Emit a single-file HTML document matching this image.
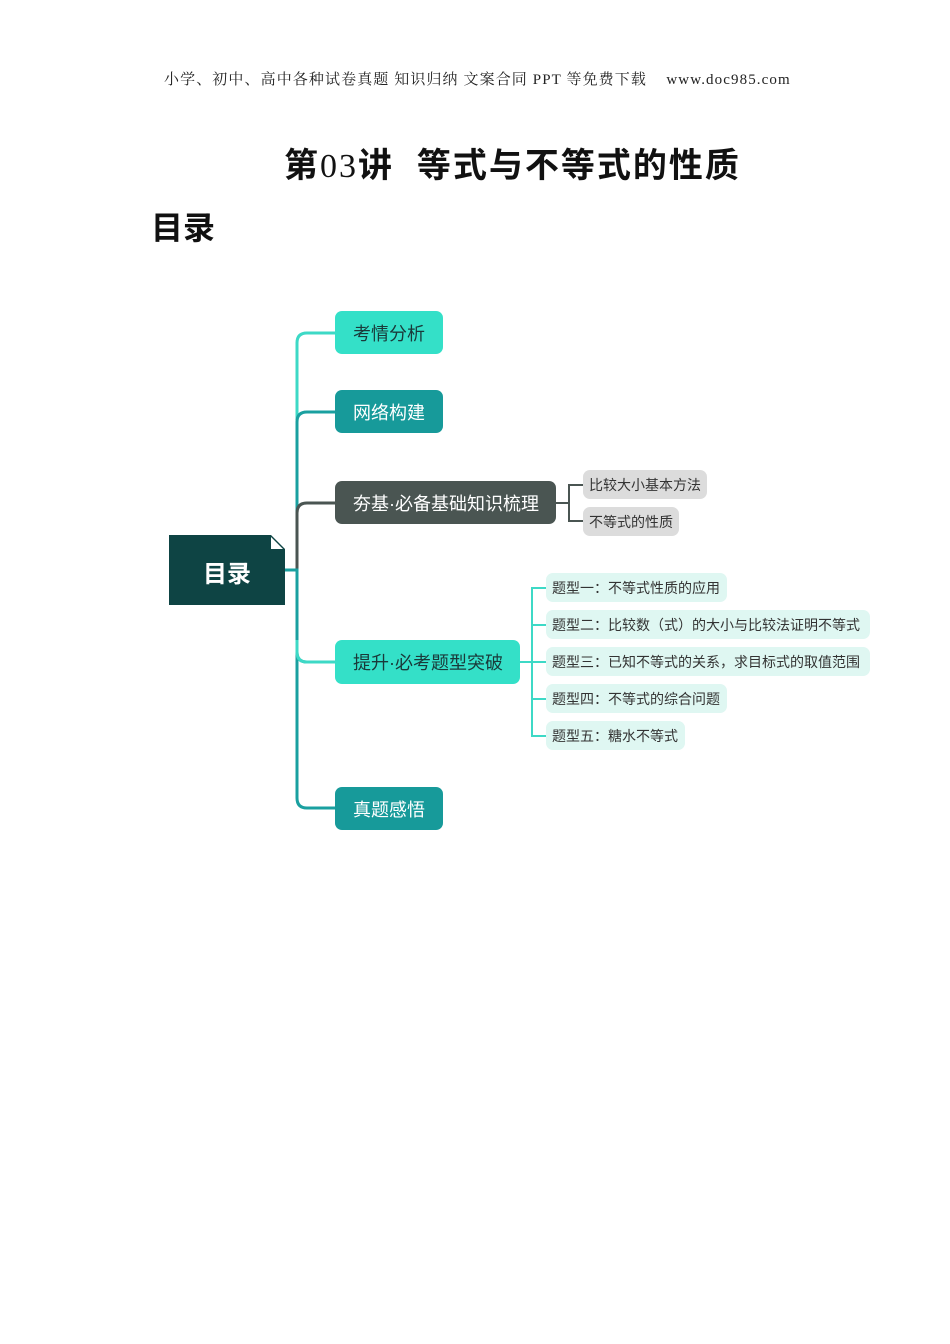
<!DOCTYPE html>
<html><head><meta charset="utf-8"><style>
body{margin:0;background:#fff;}
#p{position:relative;width:950px;height:1344px;overflow:hidden;font-family:"Liberation Sans","Noto Sans CJK SC",sans-serif;}
.a{position:absolute;white-space:nowrap;}
.n{position:absolute;border-radius:7px;display:flex;align-items:center;padding-left:18px;box-sizing:border-box;font-size:18px;}
.s{position:absolute;border-radius:7px;display:flex;align-items:center;padding-left:6px;box-sizing:border-box;font-size:14px;color:#333;}
</style></head><body><div id="p">
<div class="a" style="left:164px;top:68px;font-family:'Liberation Serif','Noto Serif CJK SC',serif;font-size:15px;color:#222;letter-spacing:1.1px;">小学、初中、高中各种试卷真题 知识归纳 文案合同 PPT 等免费下载 &nbsp;&nbsp;&nbsp;www.doc985.com</div>
<div class="a" style="left:284px;top:138px;font-size:34px;font-weight:bold;color:#111;letter-spacing:2px;">第<span style="font-family:'Liberation Serif',serif;font-weight:normal;">03</span>讲&nbsp; 等式与不等式的性质</div>
<div class="a" style="left:151px;top:203px;font-size:32px;font-weight:bold;color:#111;">目录</div>
<svg class="a" style="left:0;top:0" width="950" height="900">
<g fill="none" stroke-width="3">
<path d="M335 333 H307 Q297 333 297 343 V420" stroke="#3dd9c6"/>
<path d="M335 412 H307 Q297 412 297 422 V570" stroke="#1aa0a0"/>
<path d="M335 503 H307 Q297 503 297 513 V570" stroke="#4a5552"/>
<path d="M285 570 H297 V652 Q297 662 307 662 H335" stroke="#1aa0a0"/>
<path d="M297 600 V798 Q297 808 307 808 H335" stroke="#1aa0a0"/>
<path d="M297 640 V652 Q297 662 307 662 H335" stroke="#3dd9c6"/>
<path d="M556 503 H569 M583 485 H569 V521 H583" stroke="#4a5552" stroke-width="2"/>
<path d="M520 662 H532 M546 588 H532 V736 H546 M532 625 H546 M532 662 H546 M532 699 H546" stroke="#3dd9c6" stroke-width="2"/>
</g>
<path d="M169 535 H271 L285 549 V605 H169 Z" fill="#0e4444"/>
<path d="M271 537 L283 549 H271 Z" fill="#fff"/>
</svg>
<div class="a" style="left:169px;top:554px;width:116px;text-align:center;font-size:24px;font-weight:bold;color:#fff;">目录</div>
<div class="n" style="left:335px;top:311px;width:108px;height:43px;background:#34e0c8;color:#1a3a3a;">考情分析</div>
<div class="n" style="left:335px;top:390px;width:108px;height:43px;background:#179a9a;color:#fff;">网络构建</div>
<div class="n" style="left:335px;top:481px;width:221px;height:43px;background:#4a5552;color:#fff;">夯基·必备基础知识梳理</div>
<div class="n" style="left:335px;top:640px;width:185px;height:44px;background:#34e0c8;color:#1a3a3a;">提升·必考题型突破</div>
<div class="n" style="left:335px;top:787px;width:108px;height:43px;background:#179a9a;color:#fff;">真题感悟</div>
<div class="s" style="left:583px;top:470px;width:124px;height:29px;background:#dcdcdc;">比较大小基本方法</div>
<div class="s" style="left:583px;top:507px;width:96px;height:29px;background:#dcdcdc;">不等式的性质</div>
<div class="s" style="left:546px;top:573px;width:181px;height:29px;background:#dff7f2;">题型一：不等式性质的应用</div>
<div class="s" style="left:546px;top:610px;width:324px;height:29px;background:#dff7f2;">题型二：比较数（式）的大小与比较法证明不等式</div>
<div class="s" style="left:546px;top:647px;width:324px;height:29px;background:#dff7f2;">题型三：已知不等式的关系，求目标式的取值范围</div>
<div class="s" style="left:546px;top:684px;width:181px;height:29px;background:#dff7f2;">题型四：不等式的综合问题</div>
<div class="s" style="left:546px;top:721px;width:139px;height:29px;background:#dff7f2;">题型五：糖水不等式</div>
</div></body></html>
